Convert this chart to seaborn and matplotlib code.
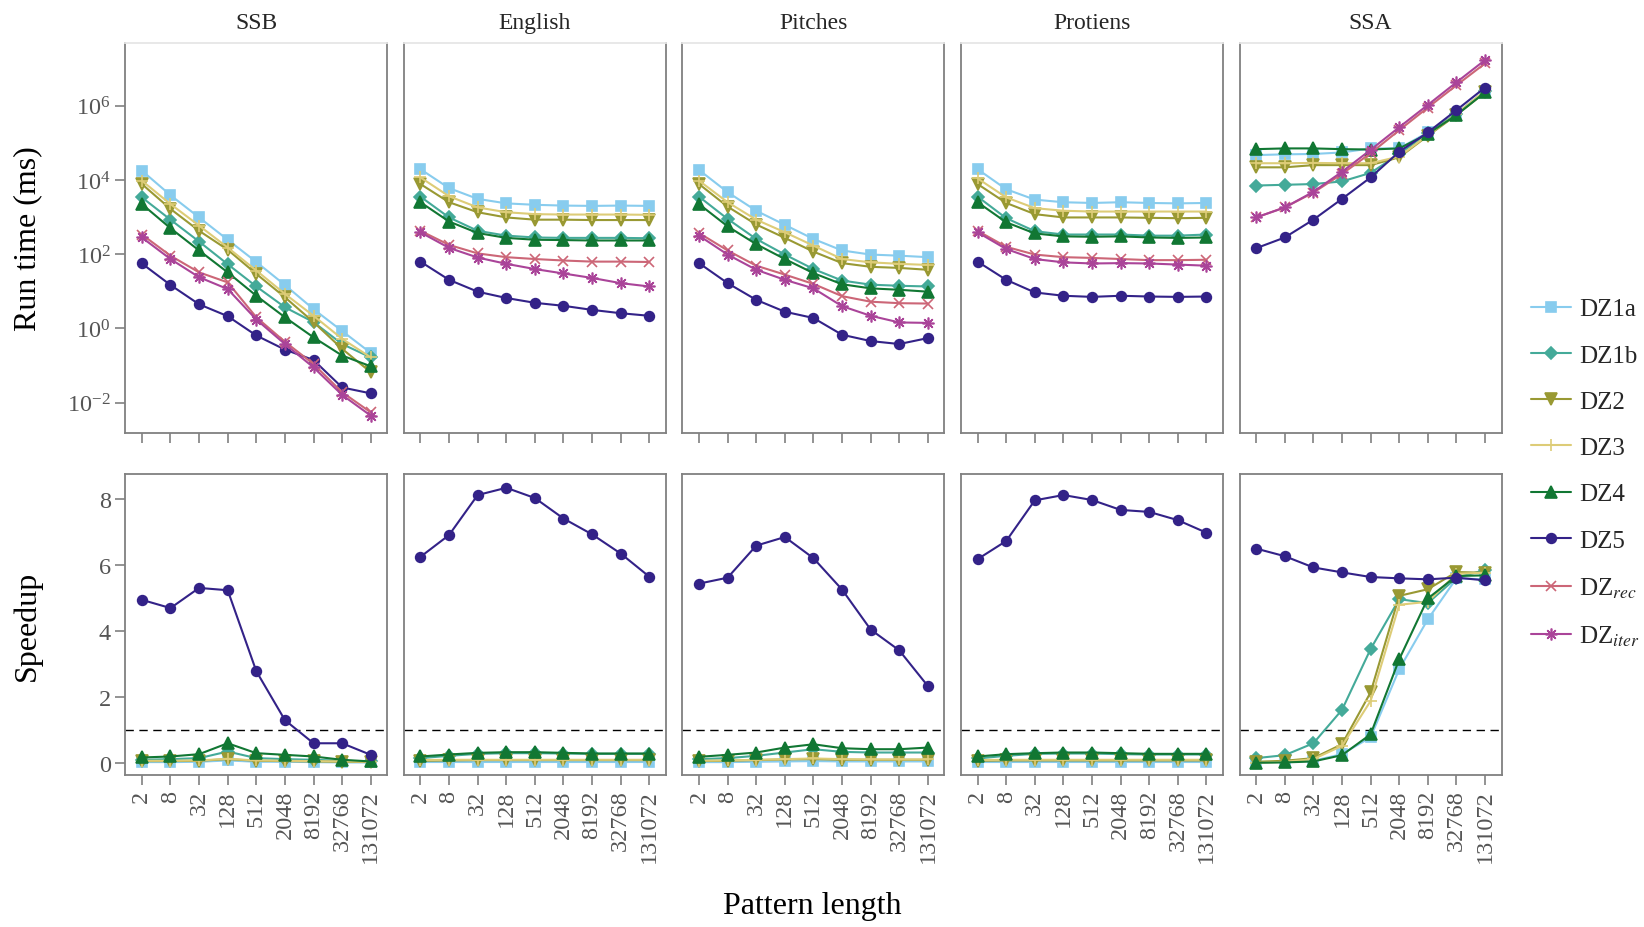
import numpy as np
import pandas as pd
import matplotlib
matplotlib.use("Agg")
import matplotlib.pyplot as plt
from matplotlib.ticker import FixedLocator, NullLocator, LogFormatterSciNotation
import seaborn as sns

# ---------------- data ----------------
pattern_lengths = [2, 8, 32, 128, 512, 2048, 8192, 32768, 131072]
tick_labels = ["2", "8", "32", "128", "512", "2048", "8192", "32768", "131072"]
datasets = ["SSB", "English", "Pitches", "Protiens", "SSA"]
algorithms = ["DZ1a", "DZ1b", "DZ2", "DZ3", "DZ4", "DZ5", "DZrec", "DZiter"]
legend_labels = ["DZ1a", "DZ1b", "DZ2", "DZ3", "DZ4", "DZ5", r"DZ$_{rec}$", r"DZ$_{iter}$"]

# Run time (ms)
ssb_time = {
    "DZ1a":   [17800, 3890, 977, 245, 61.7, 14.8, 3.31, 0.851, 0.219],
    "DZ1b":   [3390, 851, 219, 53.7, 13.5, 3.72, 1.48, 0.380, 0.166],
    "DZ2":    [7760, 1660, 427, 132, 29.5, 6.92, 1.48, 0.282, 0.0661],
    "DZ3":    [9550, 2240, 589, 151, 36.3, 8.51, 2.19, 0.525, 0.166],
    "DZ4":    [2240, 501, 126, 32.4, 7.59, 2.0, 0.575, 0.186, 0.0955],
    "DZ5":    [56.2, 14.8, 4.47, 2.14, 0.646, 0.269, 0.141, 0.0257, 0.0178],
    "DZrec":  [339, 91.2, 32.4, 17.4, 2.0, 0.437, 0.110, 0.0191, 0.0055],
    "DZiter": [282, 74.1, 24.0, 11.5, 1.74, 0.380, 0.0891, 0.0162, 0.00447],
}
english_time = {
    "DZ1a":   [19500, 6030, 3090, 2340, 2140, 2040, 2000, 2040, 2000],
    "DZ1b":   [3550, 977, 427, 316, 282, 275, 275, 275, 269],
    "DZ2":    [7760, 2510, 1350, 977, 851, 851, 832, 832, 832],
    "DZ3":    [11700, 3630, 1820, 1350, 1200, 1170, 1170, 1170, 1150],
    "DZ4":    [2510, 759, 372, 275, 245, 240, 234, 234, 234],
    "DZ5":    [63.1, 20.4, 9.77, 6.61, 4.90, 4.07, 3.16, 2.57, 2.19],
    "DZrec":  [427, 178, 105, 83.2, 74.1, 67.6, 63.1, 63.1, 61.7],
    "DZiter": [389, 148, 81.3, 55.0, 39.8, 30.2, 22.9, 16.6, 13.5],
}
pitches_time = {
    "DZ1a":   [18600, 4680, 1480, 617, 257, 126, 97.7, 91.2, 83.2],
    "DZ1b":   [3550, 891, 257, 97.7, 39.8, 19.5, 15.1, 14.1, 13.5],
    "DZ2":    [7760, 1910, 631, 275, 117, 57.5, 45.7, 42.7, 38.0],
    "DZ3":    [9550, 2510, 851, 389, 170, 74.1, 60.3, 55.0, 51.3],
    "DZ4":    [2240, 562, 186, 74.1, 30.9, 15.5, 12.0, 11.0, 9.77],
    "DZ5":    [57.5, 16.6, 5.89, 2.82, 1.91, 0.676, 0.457, 0.380, 0.550],
    "DZrec":  [372, 126, 49.0, 28.2, 15.8, 7.41, 5.25, 4.79, 4.68],
    "DZiter": [316, 97.7, 38.0, 20.4, 12.0, 3.98, 2.19, 1.45, 1.41],
}
protiens_time = {
    "DZ1a":   [19500, 5620, 2950, 2510, 2400, 2510, 2400, 2340, 2400],
    "DZ1b":   [3550, 933, 417, 339, 339, 339, 316, 316, 339],
    "DZ2":    [7760, 2400, 1200, 977, 977, 977, 955, 933, 955],
    "DZ3":    [11000, 3390, 1740, 1480, 1410, 1410, 1410, 1410, 1410],
    "DZ4":    [2510, 724, 363, 302, 295, 302, 282, 275, 282],
    "DZ5":    [63.1, 20.4, 9.33, 7.59, 7.08, 7.59, 7.24, 7.08, 7.24],
    "DZrec":  [427, 158, 97.7, 83.2, 79.4, 74.1, 69.2, 69.2, 70.8],
    "DZiter": [389, 138, 74.1, 60.3, 56.2, 57.5, 56.2, 52.5, 49.0],
}
ssa_time = {
    "DZ1a":   [46800, 49000, 50100, 55000, 70800, 70800, 191000, 603000, 2510000],
    "DZ1b":   [7080, 7410, 7760, 9120, 15500, 50100, 182000, 603000, 2450000],
    "DZ2":    [21900, 21900, 25100, 25100, 25100, 40700, 155000, 562000, 2290000],
    "DZ3":    [28200, 28200, 28800, 28200, 28200, 42700, 162000, 603000, 2510000],
    "DZ4":    [67600, 70800, 70800, 67600, 66100, 70800, 174000, 562000, 2290000],
    "DZ5":    [145, 282, 851, 3090, 11700, 57500, 191000, 759000, 3090000],
    "DZrec":  [977, 1820, 4570, 14500, 52500, 219000, 891000, 3550000, 13800000],
    "DZiter": [977, 1820, 4790, 16600, 64600, 263000, 1050000, 4270000, 17000000],
}

# Speedup
ssb_speed = {
    "DZ1a": [0.03, 0.03, 0.04, 0.08, 0.04, 0.04, 0.03, 0.02, 0.02],
    "DZ1b": [0.10, 0.12, 0.15, 0.35, 0.15, 0.12, 0.10, 0.07, 0.05],
    "DZ2":  [0.06, 0.06, 0.07, 0.12, 0.07, 0.06, 0.05, 0.04, 0.03],
    "DZ3":  [0.07, 0.07, 0.08, 0.13, 0.08, 0.07, 0.06, 0.05, 0.04],
    "DZ4":  [0.17, 0.20, 0.27, 0.60, 0.30, 0.25, 0.20, 0.10, 0.05],
    "DZ5":  [4.94, 4.69, 5.30, 5.23, 2.78, 1.30, 0.60, 0.60, 0.25],
}
english_speed = {
    "DZ1a": [0.04, 0.04, 0.04, 0.04, 0.04, 0.04, 0.04, 0.04, 0.04],
    "DZ1b": [0.15, 0.22, 0.28, 0.30, 0.30, 0.29, 0.28, 0.28, 0.28],
    "DZ2":  [0.07, 0.08, 0.09, 0.09, 0.09, 0.09, 0.09, 0.09, 0.09],
    "DZ3":  [0.09, 0.10, 0.10, 0.10, 0.10, 0.10, 0.10, 0.10, 0.10],
    "DZ4":  [0.20, 0.26, 0.31, 0.33, 0.33, 0.31, 0.29, 0.29, 0.29],
    "DZ5":  [6.24, 6.90, 8.11, 8.33, 8.02, 7.40, 6.92, 6.34, 5.64],
}
pitches_speed = {
    "DZ1a": [0.03, 0.03, 0.04, 0.05, 0.06, 0.05, 0.05, 0.05, 0.05],
    "DZ1b": [0.12, 0.15, 0.22, 0.32, 0.42, 0.34, 0.32, 0.32, 0.32],
    "DZ2":  [0.06, 0.07, 0.09, 0.11, 0.12, 0.10, 0.10, 0.10, 0.10],
    "DZ3":  [0.07, 0.08, 0.10, 0.12, 0.14, 0.12, 0.11, 0.11, 0.11],
    "DZ4":  [0.19, 0.25, 0.32, 0.47, 0.57, 0.45, 0.42, 0.42, 0.47],
    "DZ5":  [5.43, 5.61, 6.58, 6.84, 6.20, 5.25, 4.04, 3.41, 2.33],
}
protiens_speed = {
    "DZ1a": [0.04, 0.04, 0.04, 0.04, 0.04, 0.04, 0.04, 0.04, 0.04],
    "DZ1b": [0.14, 0.22, 0.28, 0.29, 0.29, 0.27, 0.26, 0.26, 0.26],
    "DZ2":  [0.07, 0.08, 0.08, 0.08, 0.08, 0.08, 0.08, 0.08, 0.08],
    "DZ3":  [0.09, 0.10, 0.10, 0.10, 0.10, 0.10, 0.10, 0.10, 0.10],
    "DZ4":  [0.20, 0.27, 0.30, 0.32, 0.32, 0.30, 0.28, 0.28, 0.28],
    "DZ5":  [6.17, 6.72, 7.95, 8.11, 7.96, 7.66, 7.60, 7.35, 6.97],
}
ssa_speed = {
    "DZ1a": [0.02, 0.04, 0.07, 0.27, 0.78, 2.84, 4.35, 5.59, 5.56],
    "DZ1b": [0.15, 0.24, 0.60, 1.61, 3.45, 4.96, 4.84, 5.61, 5.84],
    "DZ2":  [0.04, 0.07, 0.15, 0.57, 2.14, 5.06, 5.26, 5.78, 5.76],
    "DZ3":  [0.01, 0.04, 0.12, 0.52, 1.88, 4.79, 4.88, 5.73, 5.76],
    "DZ4":  [0.01, 0.02, 0.05, 0.24, 0.87, 3.14, 4.98, 5.66, 5.68],
    "DZ5":  [6.49, 6.26, 5.92, 5.77, 5.63, 5.59, 5.56, 5.61, 5.53],
}

run_times = [ssb_time, english_time, pitches_time, protiens_time, ssa_time]
speedups = [ssb_speed, english_speed, pitches_speed, protiens_speed, ssa_speed]

# ---------------- style ----------------
colors = {"DZ1a": "#88CCEE", "DZ1b": "#44AA99", "DZ2": "#999933", "DZ3": "#DDCC77",
          "DZ4": "#117733", "DZ5": "#332288", "DZrec": "#CC6677", "DZiter": "#AA4499"}
markers = {"DZ1a": "s", "DZ1b": "D", "DZ2": "v", "DZ3": "+", "DZ4": "^",
           "DZ5": "o", "DZrec": "x", "DZiter": (8, 2, 0)}
msizes = {"DZ1a": 6.5, "DZ1b": 6, "DZ2": 8, "DZ3": 8.5, "DZ4": 8,
          "DZ5": 7, "DZrec": 7.5, "DZiter": 8.5}

sns.set_theme(style="white")
plt.rcParams["font.family"] = ["Liberation Serif", "DejaVu Serif"]
plt.rcParams["mathtext.fontset"] = "stix"

spine_col = "#808080"
tick_col = "#555555"

fig, axes = plt.subplots(
    2, 5, figsize=(16.44, 9.28), dpi=100,
    gridspec_kw=dict(height_ratios=[390, 301], left=0.0762, right=0.9134,
                     top=0.9526, bottom=0.1638, wspace=0.063, hspace=0.118))

xlim = (2 ** -0.16, 2 ** 18.16)

def draw(ax, data):
    for alg in algorithms:
        if alg not in data:
            continue
        c = colors[alg]
        df = pd.DataFrame({"x": pattern_lengths, "y": data[alg]})
        sns.lineplot(data=df, x="x", y="y", ax=ax, color=c, linewidth=1.5,
                     marker=markers[alg], markersize=msizes[alg],
                     markeredgecolor=c, markeredgewidth=1.2,
                     estimator=None, legend=False,
                     label=legend_labels[algorithms.index(alg)])

for j in range(5):
    for i in range(2):
        ax = axes[i, j]
        draw(ax, run_times[j] if i == 0 else speedups[j])
        ax.set_xscale("log", base=2)
        ax.set_xlim(*xlim)
        ax.xaxis.set_major_locator(FixedLocator(pattern_lengths))
        ax.xaxis.set_minor_locator(NullLocator())
        ax.set_xlabel("")
        ax.set_ylabel("")
        for s in ax.spines.values():
            s.set_color(spine_col)
            s.set_linewidth(1.3)
        ax.tick_params(axis="both", direction="out", length=7, width=1.2,
                       color=spine_col, labelcolor=tick_col, labelsize=17.5,
                       bottom=True, left=(j == 0))
        if i == 0:
            ax.set_yscale("log")
            ax.set_ylim(10 ** -2.82, 10 ** 7.69)
            ax.yaxis.set_major_locator(FixedLocator([1e-2, 1, 1e2, 1e4, 1e6]))
            ax.yaxis.set_major_formatter(LogFormatterSciNotation())
            ax.yaxis.set_minor_locator(NullLocator())
            ax.set_xticklabels([])
            ax.spines["top"].set_color("#e6e6e6")
            ax.set_title(datasets[j], fontsize=17, pad=11)
        else:
            ax.set_ylim(-0.36, 8.75)
            ax.set_yticks([0, 2, 4, 6, 8])
            ax.axhline(1, color="black", linewidth=1.0, linestyle=(0, (6, 4)), zorder=0)
            ax.set_xticklabels(tick_labels, rotation=90)
        if j != 0:
            ax.set_yticklabels([])

axes[0, 0].set_ylabel("Run time (ms)", fontsize=23, color="black")
axes[1, 0].set_ylabel("Speedup", fontsize=23, color="black")
axes[0, 0].yaxis.set_label_coords(-0.318, 0.5)
axes[1, 0].yaxis.set_label_coords(-0.318, 0.5)

fig.text(812 / 1644, 1 - 907 / 928, "Pattern length", fontsize=23,
         ha="center", va="center", color="black")

handles, labels = axes[0, 0].get_legend_handles_labels()
fig.legend(handles, labels, loc="center left", bbox_to_anchor=(0.925, 0.4895),
           frameon=False, fontsize=18, handlelength=1.6, handletextpad=0.35,
           labelspacing=0.95, borderaxespad=0)

fig.savefig("out.png", dpi=100, facecolor="white")
